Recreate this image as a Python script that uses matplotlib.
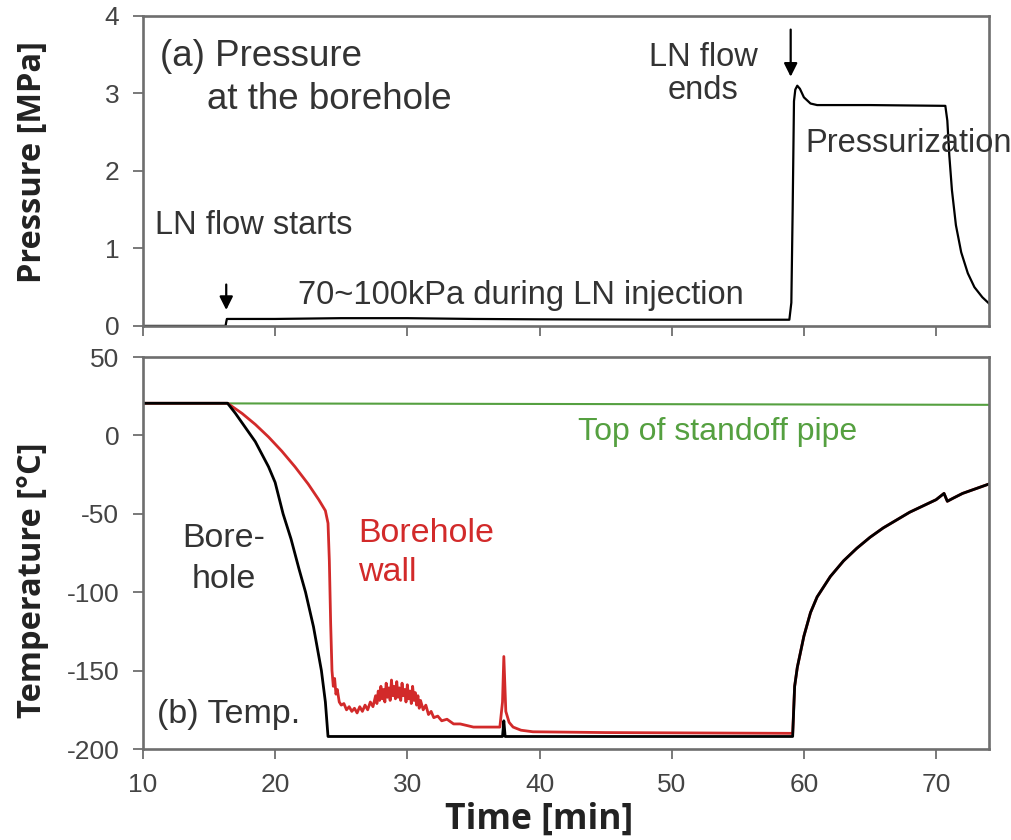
import matplotlib
matplotlib.use('Agg')
import matplotlib.pyplot as plt

plt.rcParams['font.family'] = ['Liberation Sans', 'DejaVu Sans']
plt.rcParams['axes.unicode_minus'] = False

# (a) pressure at the borehole [MPa] vs time [min]
p_time = [10.0, 16.25, 16.3, 16.35, 20.0, 25.0, 30.0, 35.0, 40.0, 50.0, 58.9,
          59.05, 59.15, 59.25, 59.35, 59.5, 59.7, 60.0, 60.5, 61.0, 65.0, 70.7,
          70.85, 71.0, 71.2, 71.5, 71.9, 72.4, 72.9, 73.5, 74.0]
p_val = [0.0, 0.0, 0.05, 0.09, 0.09, 0.10, 0.10, 0.09, 0.085, 0.08, 0.08,
         0.3, 1.5, 2.9, 3.05, 3.1, 3.06, 2.95, 2.87, 2.85, 2.85, 2.84,
         2.65, 2.2, 1.75, 1.3, 0.95, 0.68, 0.5, 0.37, 0.29]

# (b) temperatures [degC]
g_time = [10.0, 30.0, 50.0, 74.0]
g_val = [20.5, 20.2, 19.9, 19.5]

bh_time = [10.0, 16.4, 17.0, 17.5, 18.0, 18.5, 19.0, 19.5, 20.0, 20.6, 21.2,
           21.8, 22.3, 22.9, 23.5, 23.8, 24.0, 30.0, 37.2, 37.3, 37.4,
           45.0, 59.15, 59.3, 59.5, 60.0, 60.5, 61.0, 62.0, 63.0, 64.0, 65.0,
           66.0, 67.0, 68.0, 69.0, 70.0, 70.6, 70.85, 71.3, 72.0, 73.0, 74.0]
bh_val = [20.5, 20.5, 14.0, 8.0, 2.0, -4.0, -12.0, -20.0, -30.0, -50.0, -66.0,
          -85.0, -100.0, -122.0, -150.0, -170.0, -192.0, -192.0, -192.0, -182.0, -192.0,
          -192.0, -192.0, -160.0, -148.0, -128.0, -113.0, -103.0, -90.0, -80.0, -72.0, -65.0,
          -59.0, -54.0, -49.0, -45.0, -41.0, -37.0, -42.0, -40.0, -37.0, -34.0, -31.0]

wall_time = [10.0, 16.4, 17.5, 18.5, 19.5, 20.5, 21.5, 22.5, 23.3, 23.8, 24.0,
             24.1, 24.2, 24.3, 24.4, 24.5, 24.6, 24.7, 24.85, 25.0, 25.2, 25.4,
             25.6, 25.8, 26.0, 26.2, 26.4, 26.6, 26.8, 27.0, 27.2, 27.4, 27.6,
             27.7, 27.8, 27.9, 28.0, 28.1, 28.2, 28.3, 28.4, 28.5, 28.6, 28.7,
             28.8, 28.9, 29.0, 29.1, 29.2, 29.3, 29.4, 29.5, 29.6, 29.7, 29.8,
             29.9, 30.0, 30.1, 30.2, 30.3, 30.4, 30.5, 30.6, 30.7, 30.8, 30.9,
             31.0, 31.2, 31.4, 31.6, 31.8, 32.0, 32.3, 32.6, 33.0, 33.5, 34.0,
             35.0, 36.0, 37.0, 37.2, 37.3, 37.45, 37.7, 38.0, 38.6, 39.5, 45.0,
             59.15, 59.3, 59.5, 60.0, 60.5, 61.0, 62.0, 63.0, 64.0, 65.0, 66.0,
             67.0, 68.0, 69.0, 70.0, 70.6, 70.85, 71.3, 72.0, 73.0, 74.0]
wall_val = [20.5, 20.5, 14.0, 7.0, -1.0, -10.0, -20.0, -31.0, -41.0, -48.0, -56.0,
            -80.0, -120.0, -150.0, -160.0, -155.0, -165.0, -162.0, -170.0, -172.0, -171.0, -175.0,
            -173.0, -176.0, -174.0, -177.0, -173.0, -176.0, -172.0, -175.0, -170.0, -173.0, -166.0,
            -171.0, -163.0, -169.0, -160.0, -168.0, -162.0, -170.0, -158.0, -167.0, -161.0, -169.0,
            -156.0, -166.0, -160.0, -168.0, -157.0, -167.0, -161.0, -169.0, -158.0, -166.0, -162.0,
            -170.0, -159.0, -168.0, -163.0, -171.0, -160.0, -169.0, -164.0, -172.0, -166.0, -174.0,
            -169.0, -175.0, -172.0, -178.0, -176.0, -180.0, -179.0, -182.0, -181.0, -184.0, -184.0,
            -186.0, -186.0, -186.0, -170.0, -141.0, -176.0, -183.0, -186.0, -188.0, -189.0, -189.5,
            -190.0, -160.0, -148.0, -128.0, -113.0, -103.0, -90.0, -80.0, -72.0, -65.0, -59.0,
            -54.0, -49.0, -45.0, -41.0, -37.0, -42.0, -40.0, -37.0, -34.0, -31.0]

x_ticks = [10, 20, 30, 40, 50, 60, 70]
p_ticks = [0, 1, 2, 3, 4]
t_ticks = [50, 0, -50, -100, -150, -200]

txt_c = '#333333'
spine_c = '#6e6e6e'
red = '#d22a2a'
green = '#55a040'


def style_axes(ax):
    for s in ax.spines.values():
        s.set_color(spine_c)
        s.set_linewidth(1.9)
    ax.tick_params(direction='out', length=7, width=1.3, color=spine_c,
                   labelsize=19, labelcolor='#444444', pad=10,
                   top=False, right=False)


fig = plt.figure(figsize=(10.11, 8.4), dpi=100)
ax1 = fig.add_axes([0.1414, 0.612, 0.8368, 0.369])
ax2 = fig.add_axes([0.1414, 0.1083, 0.8368, 0.4667])

# --- pressure panel
ax1.plot(p_time, p_val, color='black', lw=1.6)
ax1.set_xlim(10, 74)
ax1.set_ylim(0, 4)
ax1.set_xticks(x_ticks)
ax1.set_xticklabels([])
ax1.set_yticks(p_ticks)
style_axes(ax1)
ax1.set_ylabel('Pressure [MPa]', fontsize=23.5, fontweight='bold',
               color='#222222', family=['Open Sans', 'DejaVu Sans'])
ax1.yaxis.set_label_coords(-0.111, 0.529)

ax1.text(11.3, 3.48, '(a) Pressure', fontsize=26.5, color=txt_c, va='center')
ax1.text(14.85, 2.92, 'at the borehole', fontsize=26.5, color=txt_c, va='center')
ax1.text(10.9, 1.30, 'LN flow starts', fontsize=23.5, color=txt_c, va='center')
ax1.text(21.7, 0.39, '70~100kPa during LN injection', fontsize=23.5,
         color=txt_c, va='center')
ax1.text(52.4, 3.25, 'LN flow\nends', fontsize=23.5, color=txt_c,
         va='center', ha='center', linespacing=1.1)
ax1.text(60.1, 2.36, 'Pressurization', fontsize=23.5, color=txt_c, va='center')

arrow = dict(arrowstyle='-|>', color='black', lw=1.6, mutation_scale=20)
ax1.annotate('', xy=(16.3, 0.17), xytext=(16.3, 0.57), arrowprops=arrow)
ax1.annotate('', xy=(59.0, 3.18), xytext=(59.0, 3.86), arrowprops=arrow)

# --- temperature panel
ax2.plot(g_time, g_val, color=green, lw=1.5)
ax2.plot(wall_time, wall_val, color=red, lw=2.0)
ax2.plot(bh_time, bh_val, color='black', lw=2.0)
ax2.set_xlim(10, 74)
ax2.set_ylim(-200, 50)
ax2.set_xticks(x_ticks)
ax2.set_yticks(t_ticks)
style_axes(ax2)
ax2.set_ylabel('Temperature [°C]', fontsize=23.5, fontweight='bold',
               color='#222222', family=['Open Sans', 'DejaVu Sans'])
ax2.yaxis.set_label_coords(-0.111, 0.431)
ax2.set_xlabel('Time [min]', fontsize=25.5, fontweight='bold',
               color='#222222', family=['Open Sans', 'DejaVu Sans'])
ax2.xaxis.set_label_coords(0.468, -0.135)

ax2.text(42.9, 2.2, 'Top of standoff pipe', fontsize=23, color=green, va='center')
ax2.text(16.1, -79, 'Bore-\nhole', fontsize=24.5, color=txt_c,
         va='center', ha='center', linespacing=1.4)
ax2.text(26.3, -75, 'Borehole\nwall', fontsize=24.5, color=red,
         va='center', ha='left', linespacing=1.35)
ax2.text(11.05, -178, '(b) Temp.', fontsize=24.5, color=txt_c, va='center')

fig.savefig('out.png', dpi=100)
